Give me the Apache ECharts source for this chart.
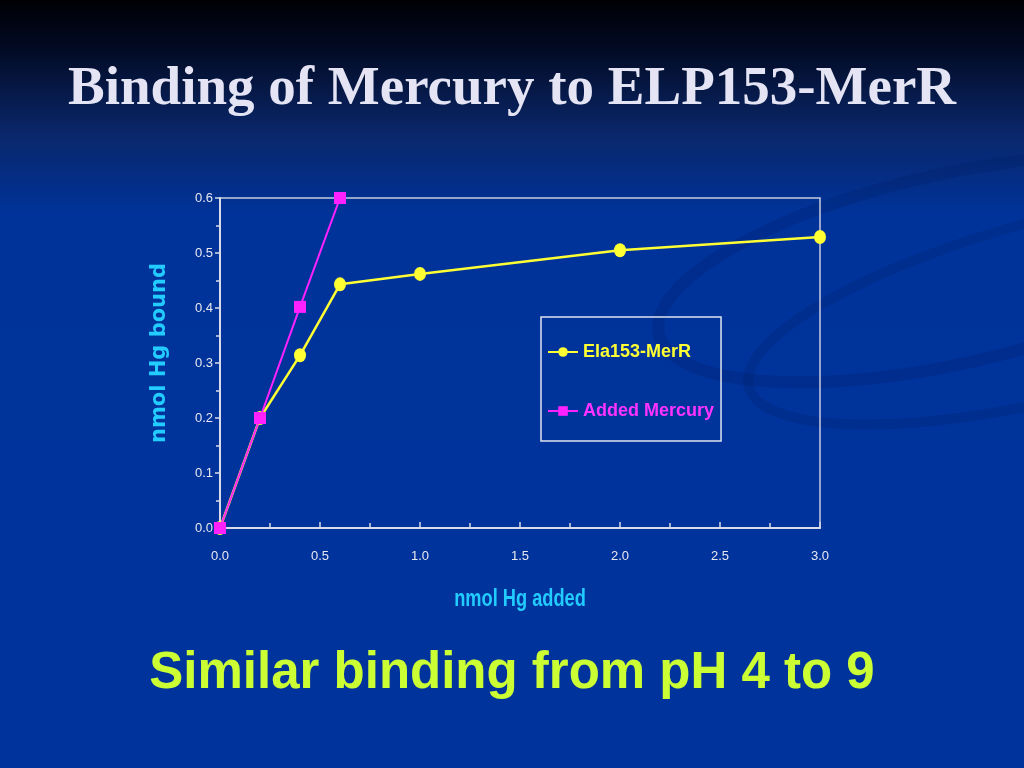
<!DOCTYPE html>
<html><head><meta charset="utf-8">
<script src="https://cdn.jsdelivr.net/npm/echarts@6/dist/echarts.min.js"></script>
<style>html,body{margin:0;padding:0;background:#003399;}#c{width:1024px;height:768px;}</style>
</head><body><div id="c"></div>
<script>
const xElaMerR = [0, 0.2, 0.4, 0.6, 1.0, 2.0, 3.0];
const yElaMerR = [0, 0.2, 0.314, 0.443, 0.462, 0.505, 0.529];
const xAdded = [0, 0.2, 0.4, 0.6];
const yAdded = [0, 0.2, 0.402, 0.6];
const seriesNames = ['Ela153-MerR', 'Added Mercury'];
const titleText = 'Binding of Mercury to ELP153-MerR';
const subText = 'Similar binding from pH 4 to 9';
const xLabel = 'nmol Hg added';
const yLabel = 'nmol Hg bound';

const chart = echarts.init(document.getElementById('c'), null, {renderer:'canvas'});
const sans = '"Liberation Sans", Arial, sans-serif';
const zip = (xs, ys) => xs.map((x, i) => [x, ys[i]]);

chart.setOption({
  backgroundColor: {
    type: 'linear', x: 0, y: 0, x2: 0, y2: 1,
    colorStops: [
      {offset: 0, color: '#000004'},
      {offset: 0.06, color: '#020a22'},
      {offset: 0.17, color: '#0a2668'},
      {offset: 0.28, color: '#00339a'},
      {offset: 1, color: '#00339c'}
    ]
  },
  graphic: [
    {type: 'ellipse', shape: {cx: 870, cy: 470, rx: 300, ry: 95}, rotation: 0.22,
      style: {fill: 'none', stroke: 'rgba(0,25,90,0.2)', lineWidth: 12}, z: -1, silent: true},
    {type: 'ellipse', shape: {cx: 960, cy: 560, rx: 330, ry: 90}, rotation: 0.25,
      style: {fill: 'none', stroke: 'rgba(0,25,90,0.18)', lineWidth: 10}, z: -1, silent: true},
    {type: 'text', left: 'center', top: 62,
      style: {text: titleText, fill: '#e4e4f4', font: 'bold 55px "Liberation Serif", "Times New Roman", serif'}},
    {type: 'text', left: 'center', top: 648,
      style: {text: subText, fill: '#ccff33', font: 'bold 51px "Liberation Sans", Arial, sans-serif'}},
    {type: 'text', x: 520, y: 599, scaleX: 0.76,
      style: {text: xLabel, x: 0, y: 0, align: 'center', verticalAlign: 'middle',
        fill: '#22ccff', font: 'bold 24px "Liberation Sans", Arial, sans-serif'}},
    {type: 'text', x: 160, y: 353, rotation: Math.PI / 2,
      style: {text: yLabel, x: 0, y: 0, align: 'center', verticalAlign: 'middle',
        fill: '#22ccff', font: 'bold 21px "DejaVu Sans", sans-serif'}}
  ],
  grid: {left: 220, right: 204, top: 198, bottom: 240, show: true, borderColor: '#c8cce0', borderWidth: 1.5, backgroundColor: 'transparent'},
  legend: {
    orient: 'vertical', left: 541, top: 317,
    padding: [26, 7, 21, 6], itemGap: 41, itemWidth: 30, itemHeight: 12,
    borderColor: '#e0e4f0', borderWidth: 1.5,
    data: [
      {name: seriesNames[0], textStyle: {color: '#ffff33'}},
      {name: seriesNames[1], textStyle: {color: '#ff33ff'}}
    ],
    textStyle: {fontFamily: sans, fontWeight: 'bold', fontSize: 18}
  },
  xAxis: {
    type: 'value', min: 0, max: 3, interval: 0.5,
    axisLine: {lineStyle: {color: '#d8dce8', width: 2}},
    axisTick: {show: true, length: 6, inside: true, lineStyle: {color: '#d8dce8', width: 1.5}},
    minorTick: {show: true, splitNumber: 2, length: 5, lineStyle: {color: '#d8dce8', width: 1.5}},
    splitLine: {show: false},
    axisLabel: {color: '#e8e8f0', fontFamily: sans, fontSize: 13, margin: 22, formatter: v => v.toFixed(1)}
  },
  yAxis: {
    type: 'value', min: 0, max: 0.6, interval: 0.1,
    axisLine: {lineStyle: {color: '#d8dce8', width: 2}},
    axisTick: {show: true, length: 5, lineStyle: {color: '#d8dce8', width: 1.5}},
    minorTick: {show: true, splitNumber: 2, length: 4, lineStyle: {color: '#d8dce8', width: 1.5}},
    splitLine: {show: false},
    axisLabel: {color: '#e8e8f0', fontFamily: sans, fontSize: 13, margin: 7, formatter: v => v.toFixed(1)}
  },
  series: [
    {
      name: seriesNames[0], type: 'line', data: zip(xElaMerR, yElaMerR),
      symbol: 'circle', symbolSize: [12, 14], showSymbol: true,
      lineStyle: {color: '#ffff33', width: 2.5},
      itemStyle: {color: '#ffff33'}, z: 3
    },
    {
      name: seriesNames[1], type: 'line', data: zip(xAdded, yAdded),
      symbol: 'rect', symbolSize: 12, showSymbol: true,
      lineStyle: {color: '#ff22ff', width: 2},
      itemStyle: {color: '#ff22ff'}, z: 4
    }
  ],
  animation: false
});
</script></body></html>
